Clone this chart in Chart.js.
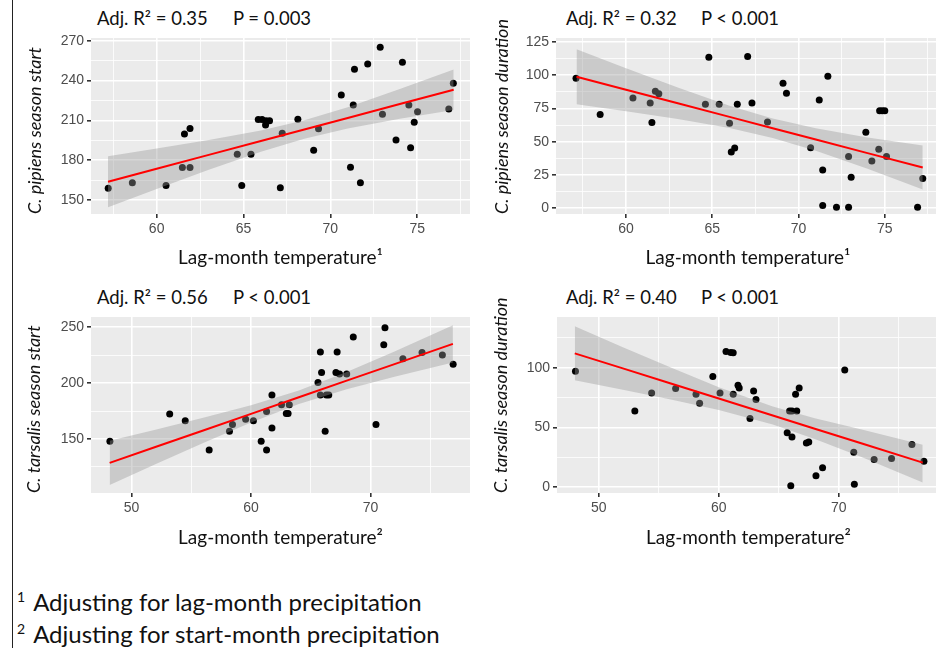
<!DOCTYPE html>
<html>
<head>
<meta charset="utf-8">
<script src="https://cdn.jsdelivr.net/npm/chart.js@4.4.1/dist/chart.umd.min.js"></script>
<style>
  html, body { margin: 0; padding: 0; background: #fff; overflow: hidden; }
  #page { position: relative; width: 936px; height: 648px; overflow: hidden; font-family: Lato, "Open Sans", sans-serif; color: #111; }
  .panel { position: absolute; }
  .stat { position: absolute; font-size: 18.5px; line-height: 20px; white-space: nowrap; }
  .note { position: absolute; left: 17px; font-size: 24px; line-height: 32px; white-space: nowrap; }
  .note sup { font-size: 14px; vertical-align: 9px; line-height: 0; margin-right: 8px; }
  #frame { position: absolute; left: 12px; top: 0; width: 1px; height: 648px; background: #222; }
</style>
</head>
<body>
<div id="page">
  <div id="frame"></div>

  <div class="stat" style="left:97px;top:8px">Adj. R² = 0.35</div>
  <div class="stat" style="left:233px;top:8px">P = 0.003</div>
  <div class="stat" style="left:566px;top:8px">Adj. R² = 0.32</div>
  <div class="stat" style="left:701px;top:8px">P &lt; 0.001</div>
  <div class="stat" style="left:97px;top:287px">Adj. R² = 0.56</div>
  <div class="stat" style="left:233px;top:287px">P &lt; 0.001</div>
  <div class="stat" style="left:566px;top:287px">Adj. R² = 0.40</div>
  <div class="stat" style="left:701px;top:287px">P &lt; 0.001</div>

  <div class="panel" style="left:14px;top:0px"><canvas id="c1" width="460" height="275"></canvas></div>
  <div class="panel" style="left:480px;top:0px"><canvas id="c2" width="464" height="275"></canvas></div>
  <div class="panel" style="left:14px;top:280px"><canvas id="c3" width="460" height="275"></canvas></div>
  <div class="panel" style="left:480px;top:280px"><canvas id="c4" width="464" height="275"></canvas></div>

  <div class="note" style="top:586px"><sup>1</sup>Adjusting for lag-month precipitation</div>
  <div class="note" style="top:618px"><sup>2</sup>Adjusting for start-month precipitation</div>
</div>

<script>
// C. pipiens season start vs lag-month temperature
const pipStartTemp = [57.21, 58.6, 60.54, 61.48, 61.6, 61.92, 61.92, 64.64, 64.9, 65.43, 65.85, 66.07, 66.3, 66.5, 66.27, 67.12, 67.23, 68.13, 69.04, 69.32, 70.63, 71.16, 71.32, 71.39, 71.73, 72.15, 72.87, 73.0, 73.78, 74.15, 74.52, 74.62, 74.83, 75.02, 76.82, 77.08];
const pipStart = [158.8, 163, 161, 174.5, 199.7, 203.8, 174.5, 184.5, 161, 184.5, 210.7, 210.7, 209.7, 209.7, 206.5, 159.3, 200.2, 210.8, 187.4, 203.7, 229.1, 174.6, 221.6, 248.4, 163, 252.4, 265, 214.6, 195.2, 253.7, 221.6, 189.4, 208.5, 216.5, 218.5, 237.9];
const pipStartFitX = [57.2, 60, 63, 66, 68.5, 71, 74, 77.1];
const pipStartFit = [163.8, 173.5, 184.0, 194.4, 203.1, 211.8, 222.3, 233.0];
const pipStartHi = [183.0, 188.7, 195.2, 202.4, 210.1, 219.8, 233.5, 248.3];
const pipStartLo = [144.6, 158.3, 172.8, 186.4, 196.1, 203.8, 211.1, 217.7];

// C. pipiens season duration vs lag-month temperature
const pipDurTemp = [57.1, 58.5, 60.4, 61.4, 61.5, 61.7, 61.9, 64.6, 64.8, 65.4, 66.0, 66.1, 66.3, 66.45, 67.05, 67.3, 68.2, 69.1, 69.3, 70.7, 71.2, 71.4, 71.4, 71.7, 72.2, 72.9, 72.9, 73.05, 73.9, 74.25, 74.65, 74.7, 74.85, 75.0, 75.1, 76.9, 77.2];
const pipDur = [97.5, 70.3, 82.8, 79, 64.3, 87.8, 86, 78, 113.3, 78, 63.8, 42.3, 45.3, 78, 114, 79, 64.8, 93.8, 86.3, 45.5, 81.3, 28.8, 2, 99, 0.8, 38.8, 0.8, 23.3, 57, 35.5, 44.3, 73.2, 73.2, 73.2, 38.8, 0.8, 22.3];
const pipDurFitX = [57.13, 60, 63, 66, 68.5, 71, 74, 77.2];
const pipDurFit = [98.7, 89.0, 78.8, 68.6, 60.1, 51.6, 41.4, 30.6];
const pipDurHi = [119.3, 105.1, 90.6, 77.0, 67.4, 60.0, 53.2, 47.1];
const pipDurLo = [78.1, 72.9, 67.0, 60.2, 52.8, 43.2, 29.6, 14.1];

// C. tarsalis season start vs lag-month temperature
const tarStartTemp = [48.2, 53.2, 54.5, 56.5, 58.2, 58.45, 59.55, 60.2, 60.85, 61.3, 61.3, 61.75, 61.75, 62.55, 62.95, 63.1, 63.2, 65.6, 65.8, 65.9, 65.8, 66.3, 66.5, 66.2, 67.2, 67.1, 67.4, 68.0, 68.55, 70.45, 71.1, 71.2, 72.7, 74.3, 76.0, 76.9];
const tarStart = [148, 172.4, 166.4, 140.2, 157, 163, 167.6, 166.4, 148, 140.2, 174.5, 189.4, 159.7, 180.6, 172.7, 172.7, 180.6, 200.5, 227.9, 209.4, 189.4, 189.4, 189.4, 157, 227.9, 209.4, 208.2, 208.2, 241.2, 163, 234.4, 249.6, 221.9, 227.3, 225.2, 216.9];
const tarStartFitX = [48.18, 52, 56, 60, 64, 68, 72, 76.88];
const tarStartFit = [128.6, 142.8, 157.6, 172.5, 187.3, 202.2, 217.0, 235.1];
const tarStartHi = [148.4, 158.3, 168.9, 180.2, 193.3, 209.9, 228.3, 251.8];
const tarStartLo = [108.8, 127.3, 146.3, 164.8, 181.3, 194.5, 205.7, 218.4];

// C. tarsalis season duration vs lag-month temperature
const tarDurTemp = [48.05, 53.0, 54.4, 56.4, 58.1, 58.4, 59.5, 60.1, 60.6, 61.0, 61.2, 61.2, 61.6, 61.7, 62.6, 62.9, 63.1, 65.7, 65.9, 66.1, 66.1, 66.0, 66.4, 66.5, 66.7, 67.3, 67.5, 68.1, 68.65, 70.5, 71.25, 71.3, 72.95, 74.4, 76.1, 77.1];
const tarDur = [97, 63.8, 78.9, 82.6, 77.8, 70.3, 92.6, 78.9, 113.5, 112.7, 112.4, 77.8, 85.3, 83, 57.6, 80.6, 73.4, 45.6, 63.8, 63.8, 42, 1.3, 77.8, 63.8, 83, 37, 37.8, 9.6, 16.3, 98, 29.2, 2.5, 23.2, 24, 35.7, 21.8];
const tarDurFitX = [47.99, 52, 56, 60, 64.5, 68, 72, 77.0];
const tarDurFit = [112.0, 99.4, 86.8, 74.2, 60.0, 49.0, 36.4, 20.6];
const tarDurHi = [134.6, 117.2, 100.1, 83.7, 67.5, 57.8, 48.0, 35.5];
const tarDurLo = [89.4, 81.6, 73.5, 64.7, 52.5, 40.3, 24.8, 4.0];

// axis breaks
const pipTempMajor = [60, 65, 70, 75];
const pipTempMinor = [57.5, 62.5, 67.5, 72.5, 77.5];
const tarTempMajor = [50, 60, 70];
const tarTempMinor = [55, 65, 75];
const pipStartMajor = [150, 180, 210, 240, 270];
const pipStartMinor = [165, 195, 225, 255];
const pipDurMajor = [0, 25, 50, 75, 100, 125];
const pipDurMinor = [12.5, 37.5, 62.5, 87.5, 112.5];
const tarStartMajor = [150, 200, 250];
const tarStartMinor = [125, 175, 225];
const tarDurMajor = [0, 50, 100];
const tarDurMinor = [25, 75, 125];

const tickFont = { family: "'Liberation Sans', Arial, sans-serif", size: 14 };
const xTitleFont = { family: "Lato, 'Open Sans', sans-serif", size: 19 };
const yTitleFont = { family: "Lato, 'Open Sans', sans-serif", size: 18, style: 'italic' };

const panelBg = {
  id: 'panelBg',
  beforeDraw(chart) {
    const a = chart.chartArea;
    const c = chart.ctx;
    c.save();
    c.fillStyle = '#ebebeb';
    c.fillRect(a.left, a.top, a.right - a.left, a.bottom - a.top);
    c.restore();
  }
};

function pts(xs, ys) {
  return xs.map((x, i) => ({ x: x, y: ys[i] }));
}

function axis(major, minor, min, max, extra) {
  const all = major.concat(minor).sort((a, b) => a - b);
  return Object.assign({
    type: 'linear',
    min: min,
    max: max,
    afterBuildTicks: s => { s.ticks = all.map(v => ({ value: v })); },
    border: { display: false },
    grid: {
      color: '#ffffff',
      lineWidth: c => (c.tick && major.includes(c.tick.value)) ? 1.6 : 0.8,
      tickColor: c => (c.tick && major.includes(c.tick.value)) ? '#333333' : 'rgba(0,0,0,0)',
      tickLength: 4
    },
    ticks: {
      callback: v => major.includes(v) ? String(v) : '',
      color: '#4d4d4d',
      font: tickFont,
      autoSkip: false,
      maxRotation: 0
    }
  }, extra);
}

function panel(id, p) {
  return new Chart(document.getElementById(id), {
    type: 'scatter',
    data: {
      datasets: [
        { data: pts(p.x, p.y), backgroundColor: '#000', borderWidth: 0, pointRadius: 3.5, order: 3 },
        { type: 'line', data: pts(p.fitX, p.hi), fill: '+1', backgroundColor: 'rgba(153,153,153,0.4)',
          borderColor: 'rgba(0,0,0,0)', borderWidth: 0, pointRadius: 0, tension: 0, order: 2 },
        { type: 'line', data: pts(p.fitX, p.lo), fill: false, borderColor: 'rgba(0,0,0,0)', borderWidth: 0,
          pointRadius: 0, tension: 0, order: 2 },
        { type: 'line', data: pts(p.fitX, p.fit), fill: false, borderColor: '#ff0000', borderWidth: 2,
          pointRadius: 0, tension: 0, order: 1 }
      ]
    },
    options: {
      responsive: false,
      animation: false,
      events: [],
      layout: { padding: { top: p.top, right: 0, bottom: 0, left: 0 } },
      plugins: { legend: { display: false }, tooltip: { enabled: false } },
      scales: {
        x: axis(p.xMajor, p.xMinor, p.xMin, p.xMax, {
          position: 'bottom',
          afterFit: s => { s.height = p.xH; },
          title: { display: true, text: p.xTitle, color: '#111', font: xTitleFont, padding: { top: 0, bottom: 5.6 } }
        }),
        y: axis(p.yMajor, p.yMinor, p.yMin, p.yMax, {
          position: 'left',
          afterFit: s => { s.width = p.yW; },
          title: { display: true, text: p.yTitle, align: 'start', color: '#111',
                   font: yTitleFont, padding: { top: p.yPad, bottom: 0 } }
        })
      }
    },
    plugins: [panelBg]
  });
}

// panel sizes tuned so the panels sit where they do in the figure
panel('c1', {
  x: pipStartTemp, y: pipStart, fitX: pipStartFitX, fit: pipStartFit, hi: pipStartHi, lo: pipStartLo,
  xMajor: pipTempMajor, xMinor: pipTempMinor, xMin: 56.22, xMax: 78.04,
  yMajor: pipStartMajor, yMinor: pipStartMinor, yMin: 139.45, yMax: 272.0,
  xTitle: 'Lag-month temperature¹', yTitle: 'C. pipiens season start', top: 38, xH: 61, yW: 77, yPad: 10.2
});
panel('c2', {
  x: pipDurTemp, y: pipDur, fitX: pipDurFitX, fit: pipDurFit, hi: pipDurHi, lo: pipDurLo,
  xMajor: pipTempMajor, xMinor: pipTempMinor, xMin: 55.94, xMax: 78.2,
  yMajor: pipDurMajor, yMinor: pipDurMinor, yMin: -4.3, yMax: 127.8,
  xTitle: 'Lag-month temperature¹', yTitle: 'C. pipiens season duration', top: 38, xH: 61, yW: 76, yPad: 10.9
});
panel('c3', {
  x: tarStartTemp, y: tarStart, fitX: tarStartFitX, fit: tarStartFit, hi: tarStartHi, lo: tarStartLo,
  xMajor: tarTempMajor, xMinor: tarTempMinor, xMin: 46.62, xMax: 78.31,
  yMajor: tarStartMajor, yMinor: tarStartMinor, yMin: 101.6, yMax: 259.2,
  xTitle: 'Lag-month temperature²', yTitle: 'C. tarsalis season start', top: 37, xH: 62, yW: 77, yPad: 9.4
});
panel('c4', {
  x: tarDurTemp, y: tarDur, fitX: tarDurFitX, fit: tarDurFit, hi: tarDurHi, lo: tarDurLo,
  xMajor: tarTempMajor, xMinor: tarTempMinor, xMin: 46.51, xMax: 78.44,
  yMajor: tarDurMajor, yMinor: tarDurMinor, yMin: -4.8, yMax: 142.4,
  xTitle: 'Lag-month temperature²', yTitle: 'C. tarsalis season duration', top: 37, xH: 62, yW: 77, yPad: 10
});
</script>
</body>
</html>
